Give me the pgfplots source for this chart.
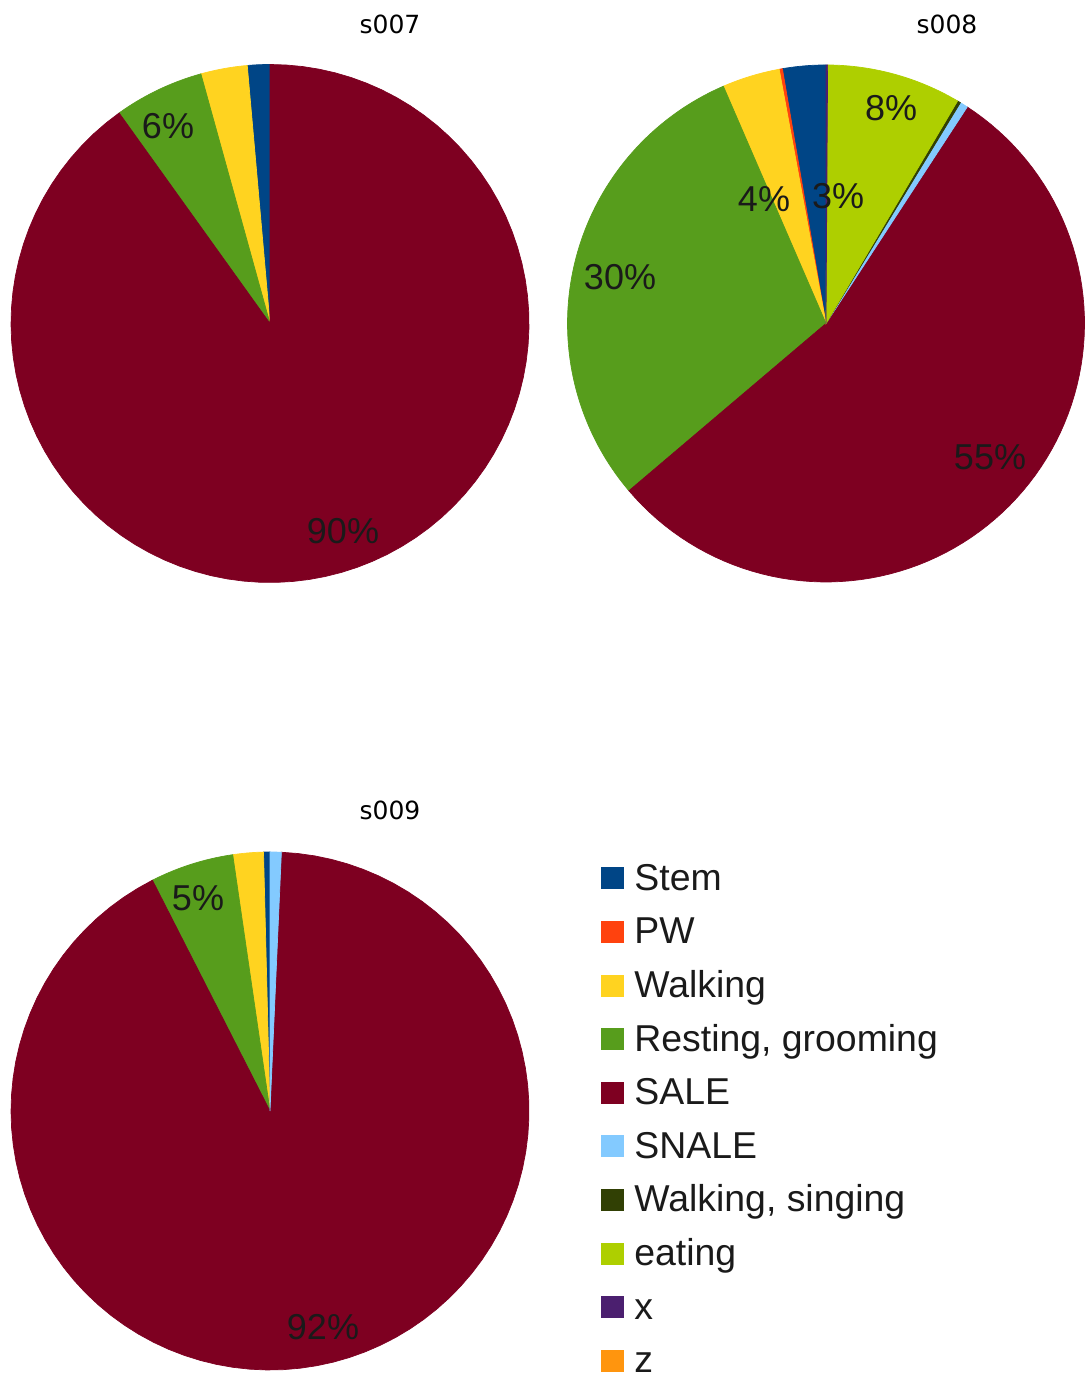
\documentclass[border=0pt]{standalone}
\usepackage{pgfplots}
\pgfplotsset{compat=1.18}
\usepackage{fontspec}
\setmainfont{Liberation Sans}
\newfontfamily\titlefamily{DejaVu Sans}

% slice colours
\definecolor{cStem}{HTML}{004586}
\definecolor{cPW}{HTML}{FF420E}
\definecolor{cWalk}{HTML}{FFD320}
\definecolor{cRest}{HTML}{579D1C}
\definecolor{cSALE}{HTML}{7E0021}
\definecolor{cSNALE}{HTML}{83CAFF}
\definecolor{cWsing}{HTML}{314004}
\definecolor{cEat}{HTML}{AECF00}
\definecolor{cX}{HTML}{4B1F6F}
\definecolor{cZ}{HTML}{FF950E}
\definecolor{labelgray}{HTML}{1A1A1A}

\newcommand\pctfont{\fontsize{18}{21}\selectfont}
\newcommand\legfont{\fontsize{18.7}{22}\selectfont}
\newcommand\titlefont{\titlefamily\fontsize{12.5}{15}\selectfont}

% #1,#2 centre, #3 radius, #4 list of percent/colour, counter-clockwise from 12 o'clock
\newcommand\pieslices[4]{%
  \gdef\piecum{0}%
  \foreach \v/\c in {#4} {%
    \pgfmathsetmacro\pa{90+3.6*\piecum}%
    \pgfmathsetmacro\pb{90+3.6*(\piecum+\v)}%
    \pgfmathsetmacro\pnew{\piecum+\v}%
    \xdef\piecum{\pnew}%
    \edef\doslice{\noexpand\addplot[forget plot, fill=\c, draw=\c, line width=0.35pt,
      domain=\pa:\pb, samples=90, variable=\noexpand\t]
      ({#1+#3*cos(\noexpand\t)}, {#2+#3*sin(\noexpand\t)}) -- (axis cs:#1,#2) -- cycle;}%
    \doslice
  }%
}

\begin{document}
\begin{tikzpicture}
\begin{axis}[
  width=542pt, height=692pt, scale only axis,
  xmin=0, xmax=1084, ymin=0, ymax=1384,
  hide axis, clip=false,
  legend cell align=left,
  legend style={at={(axis cs:601,521)}, anchor=north west, draw=none, fill=none,
    font=\legfont, text=labelgray, inner sep=0pt, row sep=11.8pt, column sep=5pt,
    nodes={inner sep=0pt, text height=13.5pt, text depth=1.5pt}},
  legend image code/.code={\fill[#1, draw=none] (0pt,-5.5pt) rectangle (11.5pt,5.5pt);},
]
% s007
\pieslices{270}{1060.5}{259}{1.4/cStem, 2.9/cWalk, 5.6/cRest, 90.1/cSALE}
% s008
\pieslices{826}{1060.5}{258.5}{2.7/cStem, 0.2/cPW, 3.6/cWalk, 29.7/cRest, 54.6/cSALE, 0.5/cSNALE, 0.2/cWsing, 8.4/cEat, 0.1/cX}
% s009
\pieslices{270}{273}{259}{0.4/cStem, 1.9/cWalk, 5.2/cRest, 91.8/cSALE, 0.7/cSNALE}

% percentage labels
\begin{scope}[every node/.style={font=\pctfont, text=labelgray}]
\node at (axis cs:168,1258) {6\%};
\node at (axis cs:343,853) {90\%};
\node at (axis cs:891,1276) {8\%};
\node at (axis cs:838,1188) {3\%};
\node at (axis cs:764,1185) {4\%};
\node at (axis cs:620,1107) {30\%};
\node at (axis cs:990,927) {55\%};
\node at (axis cs:198,486) {5\%};
\node at (axis cs:323,57) {92\%};
\end{scope}

% titles
\node[font=\titlefont] at (axis cs:390,1360) {s007};
\node[font=\titlefont] at (axis cs:947,1360) {s008};
\node[font=\titlefont] at (axis cs:390,574) {s009};

\addlegendimage{fill=cStem}\addlegendentry{Stem}
\addlegendimage{fill=cPW}\addlegendentry{PW}
\addlegendimage{fill=cWalk}\addlegendentry{Walking}
\addlegendimage{fill=cRest}\addlegendentry{Resting, grooming}
\addlegendimage{fill=cSALE}\addlegendentry{SALE}
\addlegendimage{fill=cSNALE}\addlegendentry{SNALE}
\addlegendimage{fill=cWsing}\addlegendentry{Walking, singing}
\addlegendimage{fill=cEat}\addlegendentry{eating}
\addlegendimage{fill=cX}\addlegendentry{x}
\addlegendimage{fill=cZ}\addlegendentry{z}
\end{axis}
\pgfresetboundingbox
\path (current axis.south west) rectangle (current axis.north east);
\end{tikzpicture}
\end{document}
